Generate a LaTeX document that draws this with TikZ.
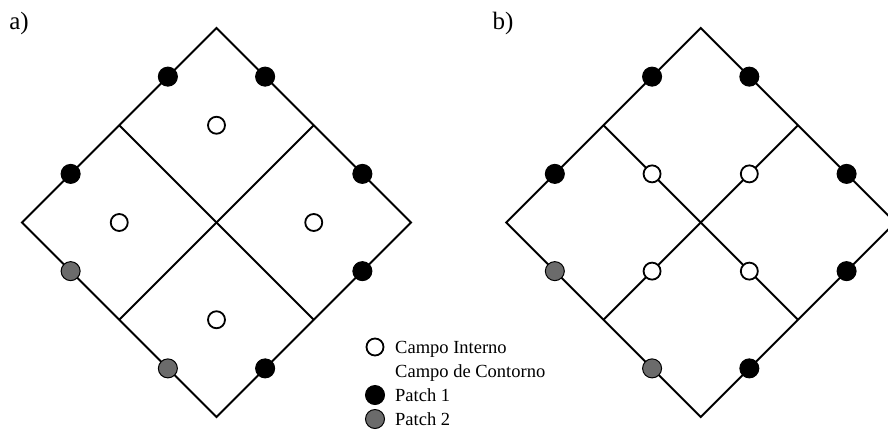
\documentclass[tikz,border=0pt]{standalone}
\usepackage{fontspec}
\setmainfont{Liberation Serif}
\usetikzlibrary{calc}
\tikzset{
  edge/.style={line width=2pt, line join=miter},
  fielddot/.style={circle, draw=black, line width=1.8pt, fill=white, minimum size=17pt, inner sep=0pt},
  patchone/.style={circle, draw=black, line width=1pt, fill=black, minimum size=19pt, inner sep=0pt},
  patchtwo/.style={circle, draw=black, line width=1pt, fill=black!58, minimum size=19pt, inner sep=0pt},
  legtext/.style={anchor=base west, inner sep=0pt, font=\fontsize{18.5}{20}\selectfont},
  panellabel/.style={inner sep=0pt, font=\fontsize{25}{28}\selectfont}
}
\begin{document}
\begin{tikzpicture}[x=1pt, y=-1pt]
\useasboundingbox (0,0) rectangle (888,440);
\clip (0,0) rectangle (888,440);
% panel labels
\node[panellabel] (la) at (19,23) {a)};
\node[panellabel] (lb) at (503,23) {b)};

% ---------- left diamond ----------
\coordinate (C1) at (216.5,222.5);
\coordinate (T1) at (216.5,28);
\coordinate (L1) at (22,222.5);
\coordinate (R1) at (411,222.5);
\coordinate (B1) at (216.5,417);
\coordinate (ul1) at ($(L1)!0.5!(T1)$);
\coordinate (ur1) at ($(T1)!0.5!(R1)$);
\coordinate (ll1) at ($(L1)!0.5!(B1)$);
\coordinate (lr1) at ($(B1)!0.5!(R1)$);
\draw[edge] (T1) -- (R1) -- (B1) -- (L1) -- cycle;
\draw[edge] (ul1) -- (lr1);
\draw[edge] (ur1) -- (ll1);
% interior fields
\node[fielddot] (a1) at ($(T1)!0.5!(C1)$) {};
\node[fielddot] (a2) at ($(L1)!0.5!(C1)$) {};
\node[fielddot] (a3) at ($(R1)!0.5!(C1)$) {};
\node[fielddot] (a4) at ($(B1)!0.5!(C1)$) {};
% boundary dots
\node[patchone] (p1) at ($(L1)!0.75!(T1)$) {};
\node[patchone] (p2) at ($(T1)!0.25!(R1)$) {};
\node[patchone] (p3) at ($(L1)!0.25!(T1)$) {};
\node[patchone] (p4) at ($(T1)!0.75!(R1)$) {};
\node[patchtwo] (p5) at ($(L1)!0.25!(B1)$) {};
\node[patchone] (p6) at ($(B1)!0.75!(R1)$) {};
\node[patchtwo] (p7) at ($(L1)!0.75!(B1)$) {};
\node[patchone] (p8) at ($(B1)!0.25!(R1)$) {};

% ---------- right diamond ----------
\coordinate (C2) at (700.7,222.5);
\coordinate (T2) at (700.7,28);
\coordinate (L2) at (506.2,222.5);
\coordinate (R2) at (895.2,222.5);
\coordinate (B2) at (700.7,417);
\coordinate (ul2) at ($(L2)!0.5!(T2)$);
\coordinate (ur2) at ($(T2)!0.5!(R2)$);
\coordinate (ll2) at ($(L2)!0.5!(B2)$);
\coordinate (lr2) at ($(B2)!0.5!(R2)$);
\draw[edge] (T2) -- (R2) -- (B2) -- (L2) -- cycle;
\draw[edge] (ul2) -- (lr2);
\draw[edge] (ur2) -- (ll2);
% interior fields on inner edges
\node[fielddot] (b1) at ($(ul2)!0.5!(C2)$) {};
\node[fielddot] (b2) at ($(ur2)!0.5!(C2)$) {};
\node[fielddot] (b3) at ($(ll2)!0.5!(C2)$) {};
\node[fielddot] (b4) at ($(lr2)!0.5!(C2)$) {};
% boundary dots
\node[patchone] (q1) at ($(L2)!0.75!(T2)$) {};
\node[patchone] (q2) at ($(T2)!0.25!(R2)$) {};
\node[patchone] (q3) at ($(L2)!0.25!(T2)$) {};
\node[patchone] (q4) at ($(T2)!0.75!(R2)$) {};
\node[patchtwo] (q5) at ($(L2)!0.25!(B2)$) {};
\node[patchone] (q6) at ($(B2)!0.75!(R2)$) {};
\node[patchtwo] (q7) at ($(L2)!0.75!(B2)$) {};
\node[patchone] (q8) at ($(B2)!0.25!(R2)$) {};

% ---------- legend ----------
\node[fielddot] (k1) at (375,347) {};
\node[legtext] (t1) at (395,353) {Campo Interno};
\node[legtext] (t2) at (395,377) {Campo de Contorno};
\node[patchone] (k3) at (375,395) {};
\node[legtext] (t3) at (395,401) {Patch 1};
\node[patchtwo] (k4) at (375,419) {};
\node[legtext] (t4) at (395,425) {Patch 2};
\end{tikzpicture}
\end{document}
